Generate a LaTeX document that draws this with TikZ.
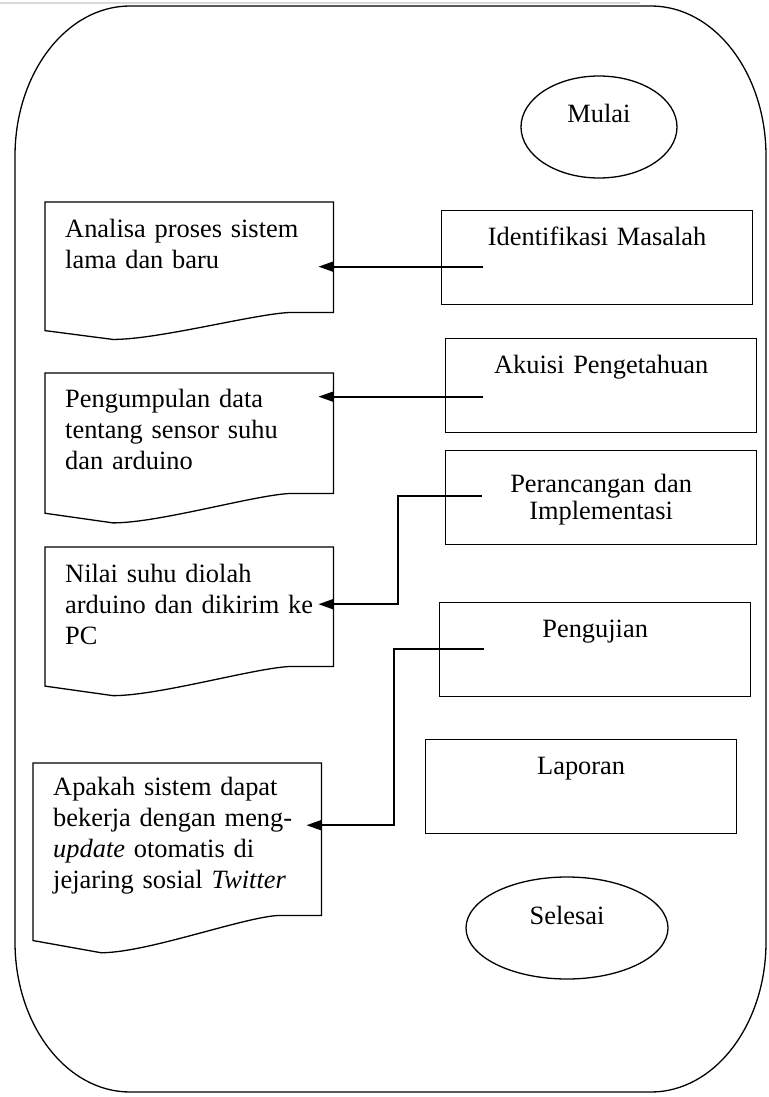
\documentclass[tikz,border=0pt]{standalone}
\usepackage{fontspec}
\setmainfont{Liberation Serif}
\usetikzlibrary{shapes,arrows.meta,calc,positioning}

\newcommand{\docoutline}[1]{%
  \draw[shapeline] let \p1=(#1.north west), \p2=(#1.south east),
      \n1={\x2-\x1}, \n2={\y1-\y2} in
    (\p1) -- (\x2,\y1) -- (\p2) -- (\x1+0.86*\n1,\y2)
    .. controls (\x1+0.745*\n1,\y2) and (\x1+0.40*\n1,\y2-0.245*\n2) .. (\x1+0.236*\n1,\y2-0.245*\n2)
    -- (\x1,\y2-0.165*\n2) -- cycle;}

\begin{document}
\begin{tikzpicture}[x=1pt,y=1pt,
    every node/.style={font=\fontsize{26.4}{31}\selectfont},
    shapeline/.style={line width=1.3pt},
    procbox/.style={draw, line width=1.3pt, anchor=north west, inner sep=0pt, text width=311pt, align=center, text height=35pt, text depth=59pt},
    docbox/.style={anchor=north west, inner xsep=20pt, inner ysep=0pt, text width=248pt, align=left, text height=35pt},
    terminal/.style={draw, ellipse, line width=1.3pt, inner sep=0pt, text height=10pt, text depth=18pt},
    conn/.style={line width=2pt, -{Triangle[length=15pt,width=10pt]}, shorten >=-15pt}]
    \useasboundingbox (0,0) rectangle (768,-1097);

    \draw[gray!30, line width=2pt] (0,-3) -- (640,-3);
    \draw[shapeline] (130,-6) -- (651,-6)
        arc[start angle=90, end angle=0, x radius=115, y radius=150] -- (766,-942)
        arc[start angle=0, end angle=-90, x radius=115, y radius=150] -- (130,-1092)
        arc[start angle=270, end angle=180, x radius=115, y radius=150] -- (15,-156)
        arc[start angle=180, end angle=90, x radius=115, y radius=150] -- cycle;

    \node[terminal, minimum width=156pt, minimum height=102pt] (mulai) at (599,-127) {Mulai};
    \node[procbox] (ident) at (441,-210) {Identifikasi Masalah};
    \node[procbox] (akuisi) at (445,-338) {Akuisi Pengetahuan};
    \node[procbox, text height=42pt, text depth=52pt, font=\fontsize{26.4}{27}\selectfont] (rancang) at (445,-450) {Perancangan dan\\Implementasi};
    \node[procbox] (uji) at (439,-602) {Pengujian};
    \node[procbox] (laporan) at (425,-739) {Laporan};
    \node[terminal, minimum width=202pt, minimum height=102pt] (selesai) at (567,-928) {Selesai};

    \node[docbox, text depth=75pt] (analisa) at (45,-202) {Analisa proses sistem\\lama dan baru};
    \node[docbox, text height=34pt, text depth=86pt] (kumpul) at (45,-373) {Pengumpulan data\\tentang sensor suhu\\dan arduino};
    \node[docbox, text depth=84pt] (nilai) at (45,-547) {Nilai suhu diolah\\arduino dan dikirim ke\\PC};
    \node[docbox, text height=32pt, text depth=120pt] (apakah) at (33,-763) {Apakah sistem dapat\\bekerja dengan meng-\\\textit{update} otomatis di\\jejaring sosial \textit{Twitter}};
    \docoutline{analisa}
    \docoutline{kumpul}
    \docoutline{nilai}
    \docoutline{apakah}

    \coordinate (identin) at ([xshift=42pt,yshift=-9pt]ident.west);
    \coordinate (akuisiin) at ([xshift=38pt,yshift=-11pt]akuisi.west);
    \coordinate (rancangin) at ([xshift=37pt,yshift=2pt]rancang.west);
    \coordinate (ujiin) at ([xshift=45pt,yshift=1pt]uji.west);
    \draw[conn] (identin) -- (identin -| analisa.east);
    \draw[conn] (akuisiin) -- (akuisiin -| kumpul.east);
    \draw[conn] (rancangin) -- ++(-84,0) |- ([yshift=2.5pt]nilai.east);
    \draw[conn] (ujiin) -- ++(-90,0) |- ([yshift=14pt]apakah.east);
\end{tikzpicture}
\end{document}
